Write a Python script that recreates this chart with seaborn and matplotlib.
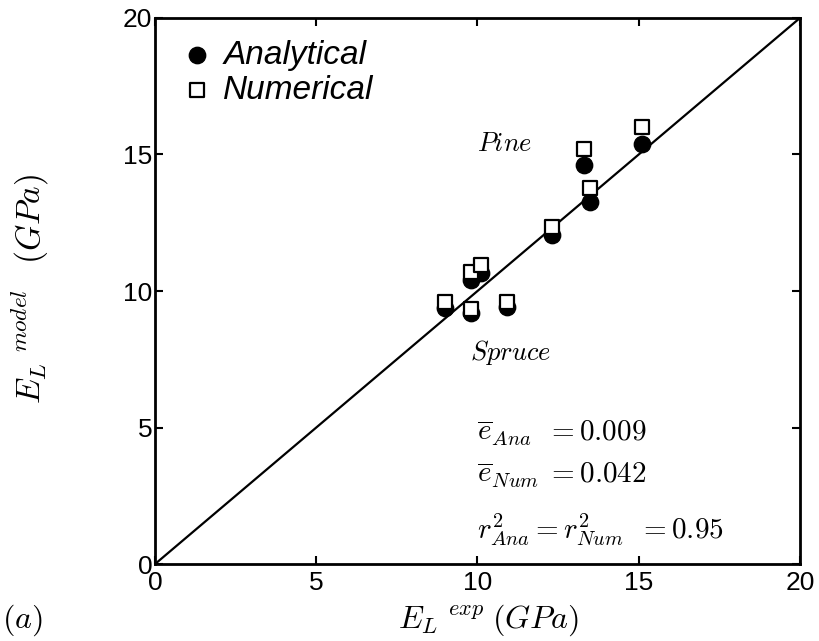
import numpy as np
import pandas as pd
import matplotlib
matplotlib.use('Agg')
import matplotlib.pyplot as plt
import seaborn as sns

# values
e_exp = [9.0, 9.8, 10.9, 9.8, 10.1, 12.3, 13.5, 13.3, 15.1]
e_ana = [9.37, 9.18, 9.40, 10.40, 10.65, 12.05, 13.27, 14.62, 15.38]
e_num = [9.61, 9.33, 9.61, 10.68, 10.95, 12.36, 13.76, 15.19, 16.02]
ticks = [0, 5, 10, 15, 20]

sns.set_style('ticks', {'axes.edgecolor': 'black', 'xtick.color': 'black',
                        'ytick.color': 'black', 'text.color': 'black'})
plt.rcParams['font.family'] = ['Liberation Sans', 'DejaVu Sans']
plt.rcParams['mathtext.fontset'] = 'cm'

df = pd.DataFrame({'exp': e_exp, 'ana': e_ana, 'num': e_num})
ref = pd.DataFrame({'x': [0, 20], 'y': [0, 20]})

fig = plt.figure(figsize=(8.2, 6.41), dpi=100)
ax = fig.add_axes([0.189, 0.120, 0.7866, 0.852])

sns.lineplot(data=ref, x='x', y='y', ax=ax, color='black', lw=1.6)
sns.scatterplot(data=df, x='exp', y='ana', ax=ax, marker='o', s=140,
                color='black', edgecolor='black', label='Analytical', zorder=3)
sns.scatterplot(data=df, x='exp', y='num', ax=ax, marker='s', s=95,
                facecolor='white', edgecolor='black', linewidth=1.6,
                label='Numerical', zorder=4)

ax.set_xlim(0, 20)
ax.set_ylim(0, 20)
ax.set_xticks(ticks)
ax.set_yticks(ticks)
ax.tick_params(direction='in', length=6, width=1.5, labelsize=19,
               top=True, right=True, pad=2, colors='black')
ax.tick_params(axis='x', pad=5)
for sp in ax.spines.values():
    sp.set_linewidth(2)
    sp.set_color('black')
ax.set_xlabel('')
ax.set_ylabel('')

leg = ax.legend(loc='upper left', bbox_to_anchor=(0.0, 1.0), frameon=False,
                prop={'style': 'italic', 'size': 24}, handletextpad=0.2,
                labelspacing=0.12, borderaxespad=0.25, handlelength=1.2)

ax.text(10.0, 15.4, '$Pine$', fontsize=19, va='center')
ax.text(9.77, 7.73, '$Spruce$', fontsize=19, va='center')
ax.text(10.0, 4.8, r'$\overline{e}_{Ana}\;\;=0.009$', fontsize=21, va='center')
ax.text(10.0, 3.26, r'$\overline{e}_{Num}\;=0.042$', fontsize=21, va='center')
ax.text(10.0, 1.25, r'$r^2_{Ana}=r^2_{Num}\;\;=0.95$', fontsize=21, va='center')

fig.text(0.595, 0.033, r'$E_L\;^{exp}\;(GPa)$', fontsize=23, ha='center', va='center')
fig.text(0.037, 0.55, r'$E_L\;^{model}\;\;\;(GPa)$', fontsize=24, ha='center',
         va='center', rotation=90)
fig.text(0.027, 0.033, r'$(a)$', fontsize=23, ha='center', va='center')

fig.savefig('out.png', dpi=100)
